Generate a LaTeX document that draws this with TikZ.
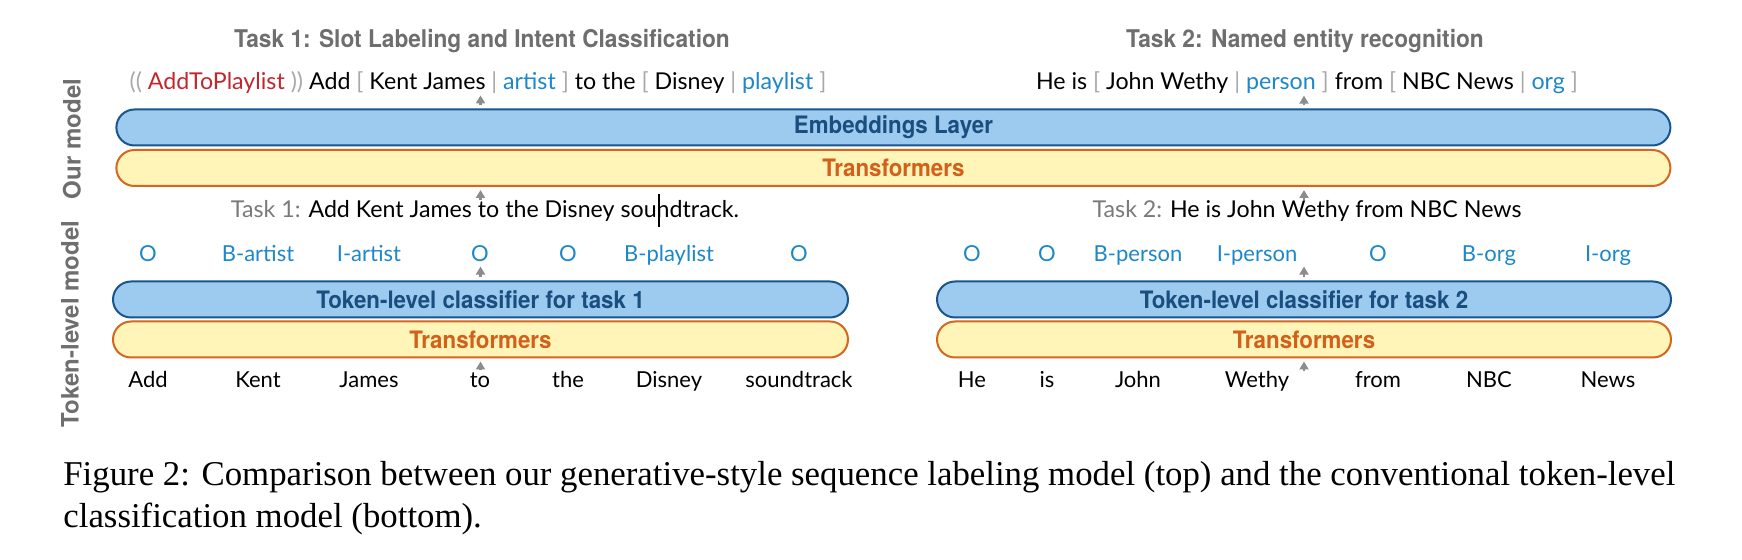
\documentclass[tikz,border=0pt]{standalone}
\usepackage{fontspec}
\setmainfont{Lato}
\newfontfamily\condfont[FakeStretch=0.93]{TeX Gyre Heros}
\newfontfamily\headfont{TeX Gyre Heros}
\newfontfamily\capfont{Liberation Serif}
\usepackage{tikz}
\usetikzlibrary{shapes,shapes.misc,arrows.meta}

\definecolor{titlegray}{HTML}{6E6E6E}
\definecolor{brgray}{HTML}{A8A8A8}
\definecolor{taskgray}{HTML}{7A7A7A}
\definecolor{intred}{HTML}{C1272D}
\definecolor{slotblue}{HTML}{1D87C8}
\definecolor{embfill}{HTML}{9DCBF0}
\definecolor{embdraw}{HTML}{17568C}
\definecolor{embtext}{HTML}{1A4E7E}
\definecolor{trfill}{HTML}{FFF5B8}
\definecolor{trdraw}{HTML}{D4661E}
\definecolor{trtext}{HTML}{D2601A}
\definecolor{arrgray}{HTML}{8C8C8C}

\newcommand{\gbr}[1]{\textcolor{brgray}{#1}}
\newcommand{\slot}[1]{\textcolor{slotblue}{#1}}

\begin{document}
\begin{tikzpicture}[x=0.5pt,y=-0.5pt]
   \useasboundingbox (0,0) rectangle (1742,560);
   \tikzstyle{bar}=[rounded rectangle, minimum height=18pt, line width=1pt, inner sep=0pt, font=\condfont\bfseries\fontsize{12}{14}\selectfont]
   \tikzstyle{embed}=[bar, fill=embfill, draw=embdraw, text=embtext]
   \tikzstyle{trans}=[bar, fill=trfill, draw=trdraw, text=trtext]
   \tikzstyle{tok}=[font=\fontsize{11}{13}\selectfont, inner sep=0pt, anchor=base]
   \tikzstyle{sent}=[tok, font=\fontsize{11.6}{13}\selectfont]
   \tikzstyle{tag}=[tok, text=slotblue]
   \tikzstyle{title}=[font=\condfont\bfseries\fontsize{12.2}{14}\selectfont, text=titlegray]
   \tikzstyle{side}=[font=\headfont\bfseries\fontsize{12}{14}\selectfont, text=titlegray, rotate=90]
   \tikzstyle{capt}=[font=\capfont\fontsize{17.4}{21}\selectfont, inner sep=0pt, anchor=base west]
   \tikzstyle{uparr}=[-{Triangle[width=4.5pt,length=4pt]}, draw=arrgray, line width=1.1pt]

   \node[title] (title1) at (482,41) {Task 1: Slot Labeling and Intent Classification};
   \node[title] (title2) at (1305,41) {Task 2: Named entity recognition};
   \node[side] (ours) at (72,139) {Our model};
   \node[side] (tokmodel) at (70,324) {Token-level model};

   % our model
   \node[sent] (sent1) at (478,90) {\gbr{((} \textcolor{intred}{AddToPlaylist} \gbr{))} Add \gbr{[} Kent James \gbr{|} \slot{artist} \gbr{]} to the \gbr{[} Disney \gbr{|} \slot{playlist} \gbr{]}};
   \node[sent] (sent2) at (1307,90) {He is \gbr{[} John Wethy \gbr{|} \slot{person} \gbr{]} from \gbr{[} NBC News \gbr{|} \slot{org} \gbr{]}};
   \node[embed, minimum width=777pt] (embed) at (893.4,127.5) {Embeddings Layer};
   \node[trans, minimum width=777pt] (trans) at (893.4,168) {Transformers};
   \node[sent] (task1) at (485,218) {\textcolor{taskgray}{Task 1:} Add Kent James to the Disney soundtrack.};
   \node[sent] (task2) at (1307,218) {\textcolor{taskgray}{Task 2:} He is John Wethy from NBC News};
   \draw[line width=1pt] (659,194) -- (659,227);

   % token-level model
   \node[embed, minimum width=367.5pt] (cls1) at (480.5,299.5) {Token-level classifier for task 1};
   \node[trans, minimum width=367.5pt] (enc1) at (480.5,339.5) {Transformers};
   \node[embed, minimum width=367pt] (cls2) at (1304,299.5) {Token-level classifier for task 2};
   \node[trans, minimum width=367pt] (enc2) at (1304,339.5) {Transformers};
   \foreach \x/\lab/\word in {148/O/Add,258/B-artist/Kent,369/I-artist/James,480/O/to,568/O/the,669/B-playlist/Disney,799/O/soundtrack,
                              972/O/He,1047/O/is,1138/B-person/John,1257/I-person/Wethy,1378/O/from,1489/B-org/NBC,1608/I-org/News} {
       \node[tag] (l\x) at (\x,262) {\lab};
       \node[tok] (w\x) at (\x,388) {\word};
   }

   % arrows
   \foreach \c/\s/\t/\l/\w in {cls1/sent1/task1/l148/w148,cls2/sent2/task2/l972/w972} {
       \draw[uparr, shorten <=1.5pt, shorten >=0.5pt] (embed.north -| \c) -- (\s.south -| \c);
       \draw[uparr, shorten <=0.5pt, shorten >=1.5pt] (\t.north -| \c) -- (trans.south -| \c);
       \draw[uparr, shorten <=1.5pt, shorten >=2pt] (\c.north) -- (\l.south -| \c);
       \draw[uparr, shorten <=0.5pt, shorten >=1.5pt] (\w.north -| \c) -- (\c.south |- enc1.south);
   }

   \node[capt] (cap1) at (63,486) {Figure 2: Comparison between our generative-style sequence labeling model (top) and the conventional token-level};
   \node[capt] (cap2) at (63,528) {classification model (bottom).};
\end{tikzpicture}
\end{document}
